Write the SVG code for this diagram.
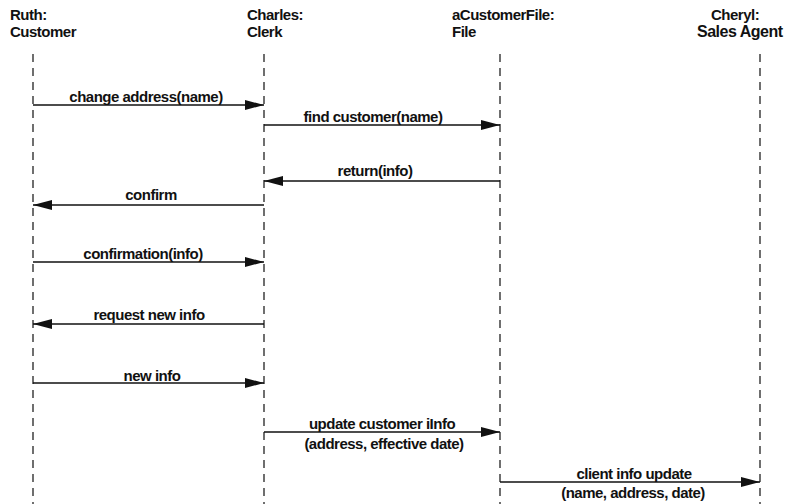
<svg xmlns="http://www.w3.org/2000/svg" width="793" height="504" viewBox="0 0 793 504">
  <style>
    text { font-family: "Liberation Sans", Arial, sans-serif; font-size: 15px; font-weight: bold; fill: #111; letter-spacing: -0.5px; }
    .mid { text-anchor: middle; }
    .life { stroke: #222; stroke-width: 1.3; stroke-dasharray: 8 6; fill: none; }
    .msg { stroke: #111; stroke-width: 1.6; fill: none; marker-end: url(#arrow); }
  </style>
  <defs>
    <marker id="arrow" markerWidth="19" markerHeight="11" refX="19" refY="5.5" orient="auto" markerUnits="userSpaceOnUse">
      <path d="M0,0.5 L19,5.5 L0,10.5 Z" fill="#111"/>
    </marker>
  </defs>
  <rect width="793" height="504" fill="#fff"/>

  <!-- objects with their lifelines -->
  <g id="ruth">
    <text x="10" y="20">Ruth:</text>
    <text x="10" y="37">Customer</text>
    <line class="life" x1="33" y1="54" x2="33" y2="504"/>
  </g>
  <g id="charles">
    <text x="247" y="20">Charles:</text>
    <text x="247" y="37">Clerk</text>
    <line class="life" x1="264" y1="54" x2="264" y2="504"/>
  </g>
  <g id="file">
    <text x="452" y="20">aCustomerFile:</text>
    <text x="452" y="37">File</text>
    <line class="life" x1="500" y1="54" x2="500" y2="504"/>
  </g>
  <g id="cheryl">
    <text x="711" y="20">Cheryl:</text>
    <text x="697" y="37" style="font-size:16px">Sales Agent</text>
    <line class="life" x1="760" y1="54" x2="760" y2="504"/>
  </g>

  <!-- messages -->
  <g id="connectors">
    <line class="msg" x1="33" y1="105" x2="264" y2="105"/>
    <text class="mid" x="146" y="102">change address(name)</text>

    <line class="msg" x1="264" y1="125" x2="500" y2="125"/>
    <text class="mid" x="373" y="122">find customer(name)</text>

    <line class="msg" x1="500" y1="181" x2="264" y2="181"/>
    <text class="mid" x="375" y="176">return(info)</text>

    <line class="msg" x1="264" y1="205" x2="33" y2="205"/>
    <text class="mid" x="151" y="200">confirm</text>

    <line class="msg" x1="33" y1="262" x2="264" y2="262"/>
    <text class="mid" x="143" y="259">confirmation(info)</text>

    <line class="msg" x1="264" y1="324" x2="33" y2="324"/>
    <text class="mid" x="149" y="320">request new info</text>

    <line class="msg" x1="33" y1="383" x2="264" y2="383"/>
    <text class="mid" x="152" y="381">new info</text>

    <line class="msg" x1="264" y1="432" x2="500" y2="432"/>
    <text class="mid" x="382" y="429">update customer iInfo</text>
    <text class="mid" x="384" y="449">(address, effective date)</text>

    <line class="msg" x1="500" y1="482" x2="760" y2="482"/>
    <text class="mid" x="634" y="479">client info update</text>
    <text class="mid" x="633" y="498">(name, address, date)</text>
  </g>
</svg>
